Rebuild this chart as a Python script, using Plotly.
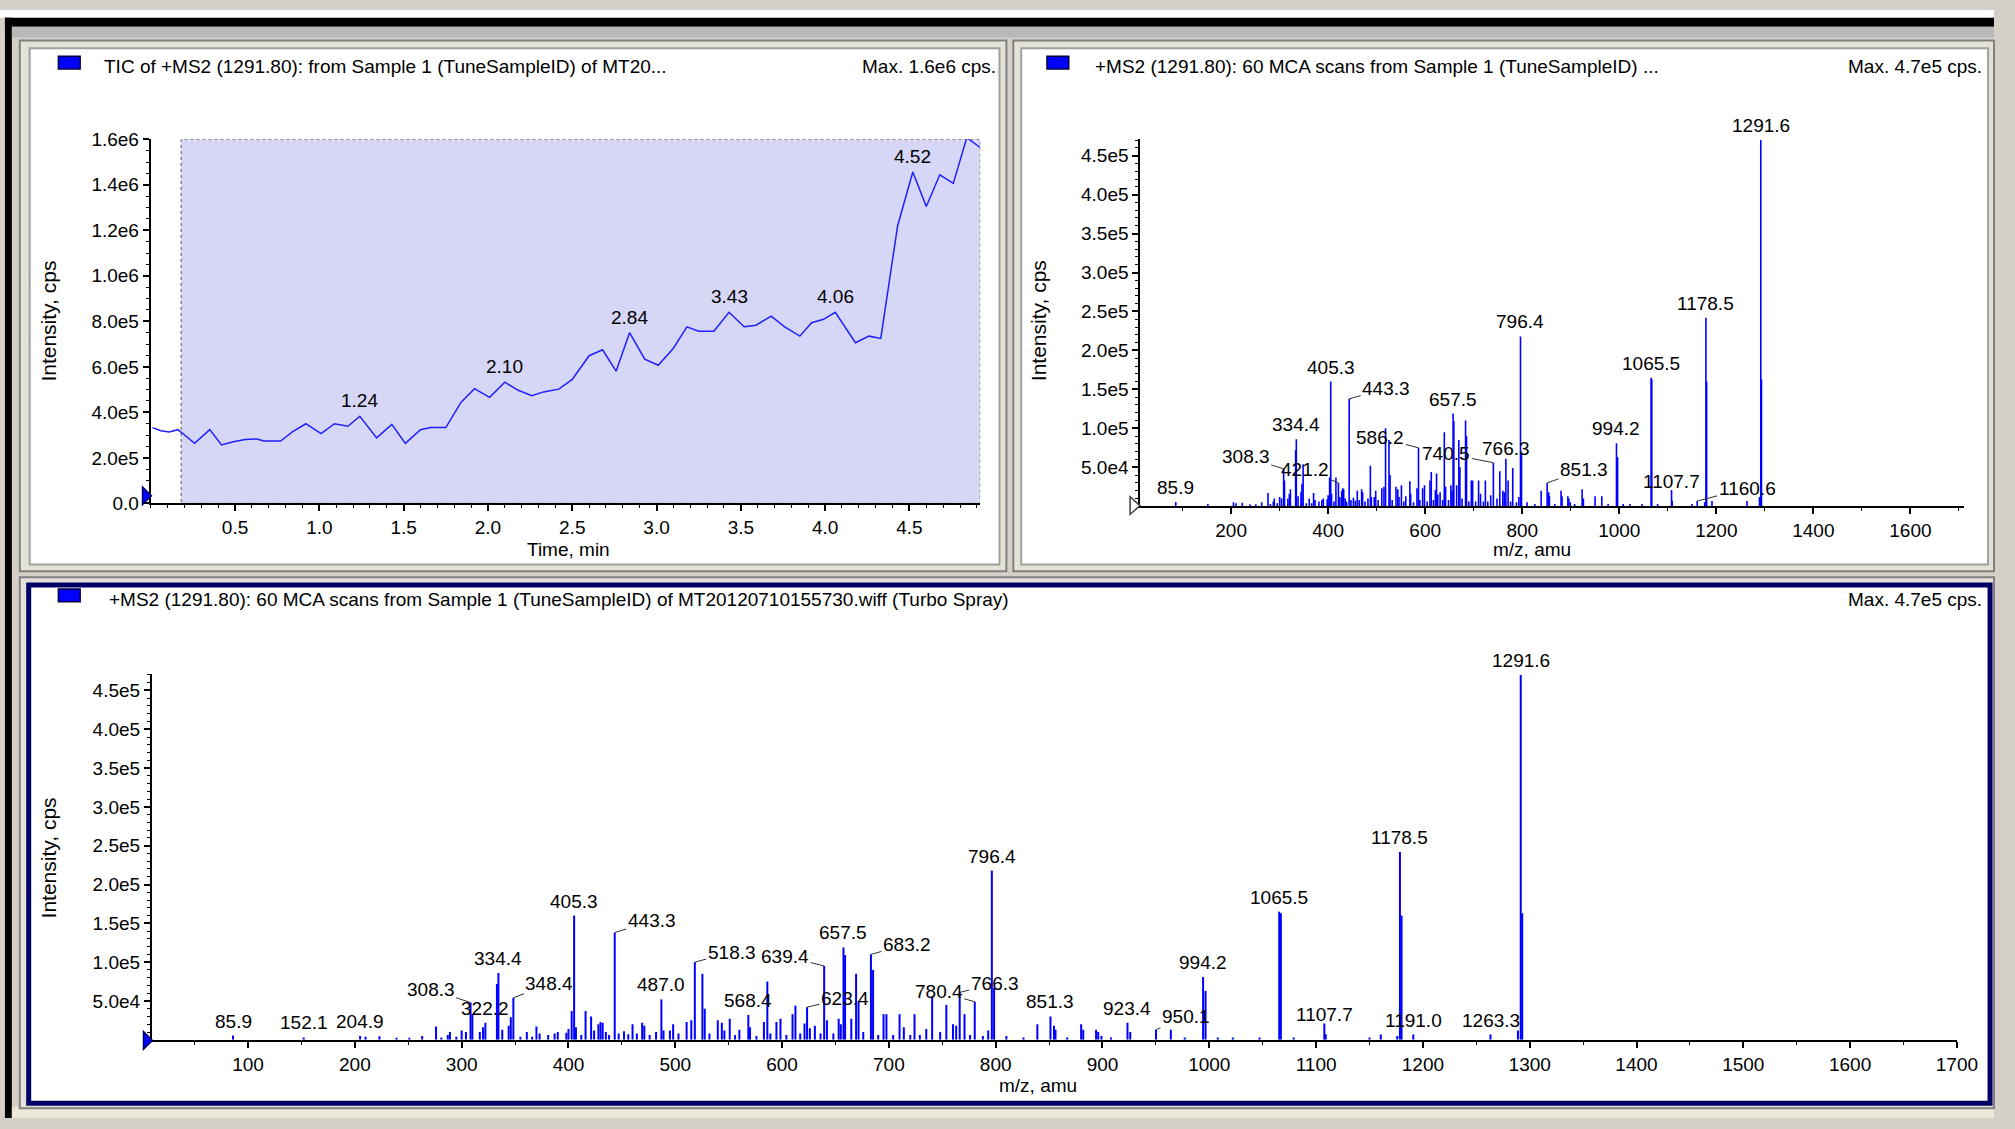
import plotly.graph_objects as go

W, H = 2015, 1129
FONT = "Liberation Sans, Arial, sans-serif"
BLUE = "#0000ff"

# ---- TIC (top left) ----
tic_time = [0.01, 0.06, 0.11, 0.16, 0.19, 0.26, 0.35, 0.42, 0.49, 0.56, 0.63, 0.67,
            0.77, 0.84, 0.92, 1.01, 1.09, 1.17, 1.24, 1.34, 1.43, 1.51, 1.60, 1.66,
            1.75, 1.84, 1.92, 2.01, 2.10, 2.18, 2.26, 2.33, 2.42, 2.50, 2.60, 2.68,
            2.76, 2.84, 2.93, 3.01, 3.10, 3.18, 3.25, 3.34, 3.43, 3.52, 3.59, 3.68,
            3.76, 3.85, 3.92, 3.99, 4.06, 4.18, 4.26, 4.33, 4.43, 4.52, 4.60, 4.68,
            4.76, 4.84, 4.92]
tic_intensity = [3.33e5, 3.19e5, 3.14e5, 3.24e5, 3.07e5, 2.64e5, 3.24e5, 2.57e5, 2.71e5,
                 2.81e5, 2.83e5, 2.74e5, 2.74e5, 3.14e5, 3.50e5, 3.07e5, 3.50e5, 3.39e5,
                 3.83e5, 2.88e5, 3.47e5, 2.64e5, 3.24e5, 3.33e5, 3.33e5, 4.44e5, 5.04e5,
                 4.66e5, 5.33e5, 4.97e5, 4.73e5, 4.90e5, 5.02e5, 5.45e5, 6.49e5, 6.75e5,
                 5.81e5, 7.50e5, 6.34e5, 6.07e5, 6.82e5, 7.76e5, 7.57e5, 7.57e5, 8.40e5,
                 7.76e5, 7.83e5, 8.23e5, 7.76e5, 7.35e5, 7.94e5, 8.09e5, 8.40e5, 7.06e5,
                 7.35e5, 7.25e5, 1.22e6, 1.456e6, 1.305e6, 1.444e6, 1.406e6, 1.607e6, 1.564e6]
tic_peak_labels = ["1.24", "2.10", "2.84", "3.43", "4.06", "4.52"]
tic_xticks = [0.5, 1.0, 1.5, 2.0, 2.5, 3.0, 3.5, 4.0, 4.5]
tic_yticks = [0, 2e5, 4e5, 6e5, 8e5, 1e6, 1.2e6, 1.4e6, 1.6e6]
tic_ytext = ["0.0", "2.0e5", "4.0e5", "6.0e5", "8.0e5", "1.0e6", "1.2e6", "1.4e6", "1.6e6"]

# ---- MS2 spectrum (top right and bottom) ----
mz = [85.9, 152.1, 204.9, 210, 223, 239, 251, 263, 276, 281, 287, 289, 295, 300, 304,
      308.3, 310, 317, 320, 322.2, 333, 334.4, 338, 344, 346, 348.4, 355, 361, 366, 370,
      373, 381, 387, 390, 398, 400, 403, 405.3, 407, 412, 416, 421.2, 424, 428, 430, 432,
      435, 438, 443.3, 447, 452, 456, 460, 464, 469, 471, 476, 482, 487.0, 489, 495, 498,
      503, 510.6, 515, 518.3, 525.4, 527.6, 532, 539.8, 543.6, 546, 551, 556, 560, 568.4,
      570, 576, 583, 586.2, 589, 594.7, 598.5, 604, 609.8, 612.5, 617, 621, 623.4, 626,
      630.7, 636, 639.4, 642, 648, 653, 655, 657.5, 659, 664.8, 669.3, 671.6, 676, 683.2,
      685.2, 690, 695, 697.7, 704, 710, 714, 720, 724, 729, 735, 740.5, 748, 753.8, 760,
      763, 766.3, 770.8, 776, 780.4, 788, 793, 796.4, 798.5, 810, 826, 839, 851.3, 854.6,
      856, 867, 880, 882, 894, 896, 899, 908, 923.4, 926, 950.1, 964, 977, 994.2, 996.5,
      1008, 1022, 1047, 1065.5, 1067, 1079, 1107.7, 1109, 1150, 1160.6, 1176, 1178.5,
      1180, 1191.0, 1263.3, 1289, 1291.6, 1293]
intensity = [5.5e3, 3e3, 5e3, 4e3, 4.5e3, 2.5e3, 2.5e3, 5e3, 1.7e4, 3e3, 6e3, 1e4, 4e3,
             1.2e4, 1e4, 4.8e4, 3.3e4, 1e4, 1.6e4, 2.2e4, 7.2e4, 8.6e4, 1.3e4, 1.8e4, 2.9e4,
             5.4e4, 4e3, 1e4, 4e3, 1.7e4, 8e3, 6e3, 8e3, 1e4, 9e3, 1.4e4, 3.7e4, 1.6e5, 1.6e4,
             6e3, 3.7e4, 3.0e4, 1.2e4, 2.0e4, 2.3e4, 2.2e4, 1e4, 6e3, 1.38e5, 8e3, 1.1e4, 7e3,
             2e4, 8e3, 2.2e4, 1.8e4, 6e3, 1e4, 5.2e4, 1.2e4, 1.2e4, 2e4, 8e3, 2.3e4, 2.5e4,
             1.0e5, 8.5e4, 4e4, 8e3, 2.5e4, 2.2e4, 1.2e4, 2.7e4, 6e3, 1.3e4, 3.2e4, 1.6e4, 5e3,
             2.3e4, 7.5e4, 8e3, 2.3e4, 2.7e4, 6e3, 3.3e4, 4.4e4, 8e3, 2.1e4, 4.2e4, 1.5e4,
             1.8e4, 8e3, 9.5e4, 2.5e4, 8e3, 2.7e4, 2.0e4, 1.19e5, 1.09e5, 2.7e4, 8.5e4, 5e4,
             1e4, 1.1e5, 9e4, 6e3, 3.3e4, 3.3e4, 6e3, 3.3e4, 1.6e4, 6e3, 3.3e4, 6e3, 1.4e4,
             5.6e4, 1e4, 4.5e4, 2.0e4, 1.8e4, 6.1e4, 3.3e4, 6e3, 4.9e4, 5e3, 1.2e4, 2.18e5,
             6.7e4, 5e3, 3e3, 2.0e4, 3.0e4, 1.8e4, 1.3e4, 3e3, 2.0e4, 1.3e4, 1.3e4, 1.0e4,
             5e3, 3e3, 2.2e4, 1.0e4, 1.3e4, 1.3e4, 3e3, 8.1e4, 6.3e4, 3e3, 3e3, 3e3, 1.65e5,
             1.63e5, 3e3, 2.1e4, 7e3, 3e3, 6.7e3, 5e3, 2.42e5, 1.6e5, 6.7e3, 6.7e3, 1.2e4,
             4.7e5, 1.63e5]
tr_labels = ["85.9", "308.3", "334.4", "405.3", "421.2", "443.3", "586.2", "657.5", "740.5",
             "766.3", "796.4", "851.3", "994.2", "1065.5", "1107.7", "1160.6", "1178.5", "1291.6"]
bottom_labels = ["85.9", "152.1", "204.9", "308.3", "322.2", "334.4", "348.4", "405.3",
                 "443.3", "487.0", "518.3", "568.4", "623.4", "639.4", "657.5", "683.2",
                 "766.3", "780.4", "796.4", "851.3", "923.4", "950.1", "994.2", "1065.5",
                 "1107.7", "1178.5", "1191.0", "1263.3", "1291.6"]
spec_yticks = [5e4, 1e5, 1.5e5, 2e5, 2.5e5, 3e5, 3.5e5, 4e5, 4.5e5]
spec_ytext = ["5.0e4", "1.0e5", "1.5e5", "2.0e5", "2.5e5", "3.0e5", "3.5e5", "4.0e5", "4.5e5"]
tr_xticks = [200, 400, 600, 800, 1000, 1200, 1400, 1600]
bot_xticks = [100, 200, 300, 400, 500, 600, 700, 800, 900, 1000, 1100, 1200, 1300, 1400,
              1500, 1600, 1700]

# leader-line offsets (pixels, text centre relative to peak top)
tr_leaders = {"308.3": (-38, -12), "421.2": (-33, -13), "443.3": (37, -10), "586.2": (-38, -10),
              "740.5": (-47, -9), "851.3": (37, -13), "1160.6": (50, -13)}
bot_leaders = {"308.3": (-40, -13), "348.4": (36, -14), "443.3": (37, -12), "518.3": (37, -10),
               "639.4": (-39, -10), "623.4": (38, -9), "683.2": (36, -10), "780.4": (-36, -10),
               "766.3": (35, -9), "950.1": (30, -13)}
tr_shift = {"1107.7": -6, "766.3": -4}
bot_shift = {"1107.7": -6}


def px(x):
    return x / W


def py(y):
    return 1 - y / H


def sticks(xs, ys):
    sx, sy = [], []
    for a, b in zip(xs, ys):
        sx += [a, a, None]
        sy += [0, b, None]
    return sx, sy


fig = go.Figure()

fig.add_trace(go.Scatter(x=tic_time, y=tic_intensity, mode="lines",
                         line=dict(color="#2020ff", width=1.5),
                         xaxis="x", yaxis="y", hoverinfo="skip"))
sx, sy = sticks(mz, intensity)
fig.add_trace(go.Scatter(x=sx, y=sy, mode="lines", line=dict(color=BLUE, width=1.6),
                         xaxis="x2", yaxis="y2", hoverinfo="skip"))
fig.add_trace(go.Scatter(x=sx, y=sy, mode="lines", line=dict(color=BLUE, width=2),
                         xaxis="x3", yaxis="y3", hoverinfo="skip"))

axis_common = dict(showline=True, linecolor="black", linewidth=2, ticks="outside",
                   ticklen=6, tickwidth=2, tickcolor="black", showgrid=False,
                   zeroline=False, tickfont=dict(size=19, color="black", family=FONT),
                   fixedrange=True)


def minor(step):
    return dict(tickmode="linear", tick0=0, dtick=step, ticks="outside", ticklen=3,
                tickwidth=1, tickcolor="black", showgrid=False)


fig.update_layout(
    width=W, height=H, margin=dict(l=0, r=0, t=0, b=0),
    paper_bgcolor="#d4d0c8", plot_bgcolor="rgba(0,0,0,0)", showlegend=False,
    font=dict(family=FONT, size=19, color="black"),
    xaxis=dict(axis_common, domain=[0.0756, 0.4916], range=[0, 4.92], anchor="y",
               tickvals=tic_xticks, ticktext=["%.1f" % v for v in tic_xticks],
               minor=minor(0.1)),
    yaxis=dict(axis_common, domain=[0.5547, 0.8833], range=[0, 1.6e6], anchor="x",
               tickvals=tic_yticks, ticktext=tic_ytext, minor=minor(5e4)),
    xaxis2=dict(axis_common, domain=[0.5719, 0.9851], range=[13, 1711], anchor="y2",
                tickvals=tr_xticks, ticktext=[str(v) for v in tr_xticks], minor=minor(100)),
    yaxis2=dict(axis_common, domain=[0.5521, 0.8833], range=[0, 4.71e5], anchor="x2",
                tickvals=spec_yticks, ticktext=spec_ytext, minor=minor(1e4)),
    xaxis3=dict(axis_common, domain=[0.0762, 0.9814], range=[10, 1700], anchor="y3",
                tickvals=bot_xticks, ticktext=[str(v) for v in bot_xticks], minor=minor(50)),
    yaxis3=dict(axis_common, domain=[0.0706, 0.4006], range=[0, 4.71e5], anchor="x3",
                tickvals=spec_yticks, ticktext=spec_ytext, minor=minor(1e4)),
)

shapes = []


def prect(x0, y0, x1, y1, fill, line="rgba(0,0,0,0)", lw=0):
    shapes.append(dict(type="rect", xref="paper", yref="paper", x0=px(x0), x1=px(x1),
                       y0=py(y1), y1=py(y0), fillcolor=fill,
                       line=dict(color=line, width=lw), layer="below"))


# window frame
prect(0, 0, W, 8, "white")
prect(5, 8, W, 17, "black")
prect(5, 8, 12, H, "black")
prect(12, 17, W, 28, "#b8b8b8")
prect(12, 1118, W, H, "#ece9d8")
# panels
prect(20, 31, 1017, 572, "#e4e1d6", "#808080", 2)
prect(30, 39, 1010, 565, "white", "#a0a0a0", 2)
prect(1024, 31, W, 572, "#e4e1d6", "#808080", 2)
prect(1032, 39, 2009, 565, "white", "#a0a0a0", 2)
prect(20, 578, W, 1119, "#e4e1d6", "#808080", 2)
prect(29, 586, 2011, 1114, "white", "#000066", 5)

# selected region in TIC
shapes.append(dict(type="rect", xref="x", yref="y", x0=0.18, x1=4.92, y0=0, y1=1.6e6,
                   fillcolor="#d6d6f6", line=dict(color="#505050", width=1, dash="dot"),
                   layer="below"))


def tri(pts, fill, line):
    path = "M " + " L ".join("%f,%f" % (px(a), py(b)) for a, b in pts) + " Z"
    shapes.append(dict(type="path", xref="paper", yref="paper", path=path,
                       fillcolor=fill, line=dict(color=line, width=1.5)))


tri([(144, 486), (153, 495), (144, 504)], BLUE, "#000066")
tri([(1142, 496), (1152, 505), (1142, 514)], "white", "#404040")
tri([(145, 1041), (154, 1050), (145, 1059)], BLUE, "#000066")

# legend squares
for x0, y0 in [(59, 47), (1058, 47), (59, 590)]:
    prect(x0, y0, x0 + 22, y0 + 13, BLUE, "#000040", 1.5)
    shapes[-1]["layer"] = "above"

fig.update_layout(shapes=shapes)

ann = []


def ptext(x, y, text, xanchor="left", size=19, angle=0):
    ann.append(dict(xref="paper", yref="paper", x=px(x), y=py(y), text=text,
                    showarrow=False, xanchor=xanchor, yanchor="middle", textangle=angle,
                    font=dict(size=size, family=FONT, color="black")))


ptext(103, 58, "TIC of +MS2 (1291.80): from Sample 1 (TuneSampleID) of MT20...")
ptext(1009, 58, "Max. 1.6e6 cps.", "right")
ptext(1105, 58, "+MS2 (1291.80): 60 MCA scans from Sample 1 (TuneSampleID) ...")
ptext(2005, 58, "Max. 4.7e5 cps.", "right")
ptext(108, 601, "+MS2 (1291.80): 60 MCA scans from Sample 1 (TuneSampleID) of "
      "MT20120710155730.wiff (Turbo Spray)")
ptext(2005, 601, "Max. 4.7e5 cps.", "right")
ptext(49, 317, "Intensity, cps", "center", 21, -90)
ptext(1049, 317, "Intensity, cps", "center", 21, -90)
ptext(49, 864, "Intensity, cps", "center", 21, -90)
ptext(574, 550, "Time, min", "center", 19)
ptext(1548, 550, "m/z, amu", "center", 19)
ptext(1049, 1096, "m/z, amu", "center", 19)

for lab in tic_peak_labels:
    i = tic_time.index(float(lab))
    ann.append(dict(xref="x", yref="y", x=tic_time[i], y=tic_intensity[i], text=lab,
                    showarrow=False, yanchor="bottom", yshift=3,
                    font=dict(size=19, family=FONT, color="black")))

peak_of = dict(zip(mz, intensity))


def peak_labels(labels, xr, yr, leaders, shifts):
    for lab in labels:
        m = float(lab)
        a = dict(xref=xr, yref=yr, x=m, y=peak_of[m], text=lab,
                 font=dict(size=19, family=FONT, color="black"))
        if lab in leaders:
            dx, dy = leaders[lab]
            a.update(showarrow=True, arrowhead=0, arrowwidth=1, arrowcolor="#303030",
                     ax=dx, ay=dy, standoff=0)
        else:
            a.update(showarrow=False, yanchor="bottom", yshift=2 + shifts.get(lab, 0))
        ann.append(a)


peak_labels(tr_labels, "x2", "y2", tr_leaders, tr_shift)
peak_labels(bottom_labels, "x3", "y3", bot_leaders, bot_shift)

fig.update_layout(annotations=ann)

# page: no margins, page colour matching the window frame
page = ("document.documentElement.style.margin='0';"
        "document.documentElement.style.overflow='hidden';"
        "document.documentElement.style.background='#d4d0c8';"
        "document.body.style.margin='0';"
        "document.body.style.overflow='hidden';"
        "document.body.style.background='#d4d0c8';")
fig.write_html("out.html", config={"displayModeBar": False}, post_script=page)
